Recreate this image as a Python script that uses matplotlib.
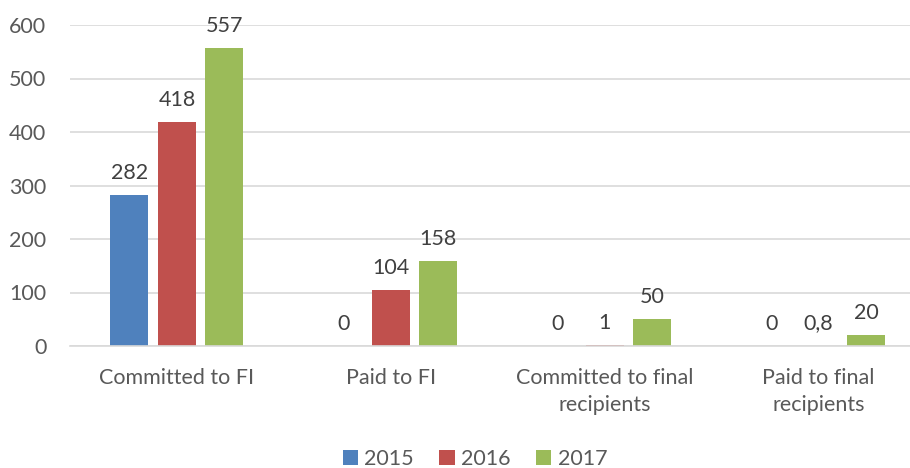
import matplotlib
matplotlib.use("Agg")
import matplotlib.pyplot as plt
import numpy as np

categories = ["Committed to FI", "Paid to FI", "Committed to final\nrecipients", "Paid to final\nrecipients"]
years = ["2015", "2016", "2017"]
values_2015 = [282, 0, 0, 0]
values_2016 = [418, 104, 1, 0.8]
values_2017 = [557, 158, 50, 20]
labels_2015 = ["282", "0", "0", "0"]
labels_2016 = ["418", "104", "1", "0,8"]
labels_2017 = ["557", "158", "50", "20"]
y_ticks = [0, 100, 200, 300, 400, 500, 600]

colors = ["#4F81BD", "#C0504D", "#9BBB59"]
text_color = "#595959"
grid_color = "#D9D9D9"
fs = 15.5

plt.rcParams['font.family'] = ['Lato', 'DejaVu Sans']

fig = plt.figure(figsize=(9.1, 4.68), dpi=100)
ax = fig.add_axes([70/910, (468-346)/468, 855.5/910, 321/468])

x = np.arange(len(categories))
width = 0.178
step = 0.222
series = [values_2015, values_2016, values_2017]
labels = [labels_2015, labels_2016, labels_2017]
for i, (vals, labs, col, yr) in enumerate(zip(series, labels, colors, years)):
    pos = x + (i - 1) * step
    bars = ax.bar(pos, vals, width=width, color=col, label=yr, zorder=3)
    for b, lab, v in zip(bars, labs, vals):
        ax.annotate(lab, (b.get_x() + b.get_width()/2, v), xytext=(0, 9),
                    textcoords="offset points", ha="center", va="bottom",
                    fontsize=fs, color="#404040")

ax.set_xlim(-0.5, 3.5)
ax.set_ylim(0, 600)
ax.set_yticks(y_ticks)
ax.set_xticks(x)
ax.set_xticklabels(categories, fontsize=fs, color=text_color, linespacing=1.45)
ax.tick_params(axis='y', labelsize=fs, labelcolor=text_color, length=0, pad=17)
ax.tick_params(axis='x', length=0, pad=16)
ax.yaxis.grid(True, color=grid_color, linewidth=1.2, zorder=0)
for s in ["top", "right", "left"]:
    ax.spines[s].set_visible(False)
ax.spines["bottom"].set_color(grid_color)
ax.spines["bottom"].set_linewidth(1.2)
ax.spines["bottom"].set_zorder(4)
ax.set_axisbelow(True)

leg = fig.legend(loc="center", bbox_to_anchor=(475/910, 1 - 459/468), ncol=3,
                 frameon=False, fontsize=fs, handlelength=0.7, handleheight=0.7,
                 handletextpad=0.3, columnspacing=1.2, labelcolor=text_color)

fig.savefig("out.png", dpi=100)
